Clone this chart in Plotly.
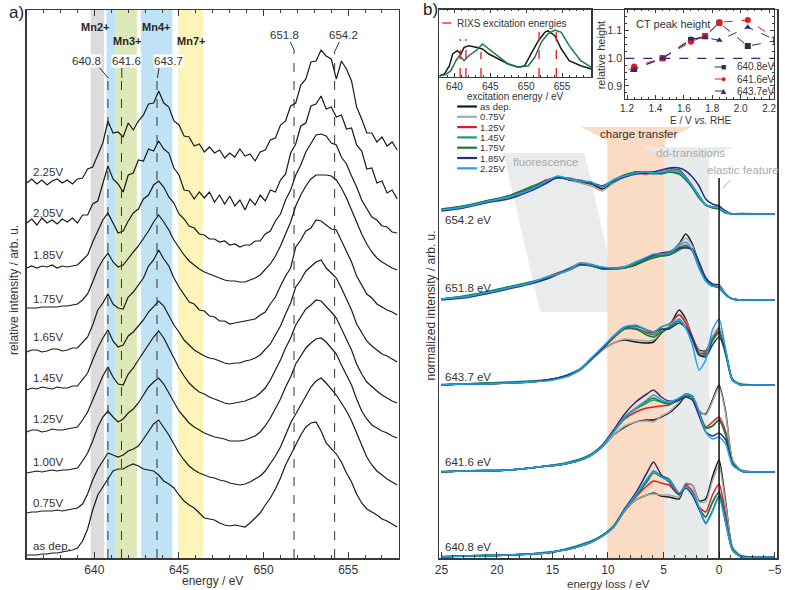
import plotly.graph_objects as go

W, H = 785, 590
def px(x): return x / W
def py(y): return 1 - y / H

FONT = "Liberation Sans, Arial, Helvetica, sans-serif"
TXT = "#333333"
AX = "#3a3a3a"

# ---------------- panel a : XAS spectra ----------------
xas_energy = [636.0, 636.3, 636.6, 636.9, 637.2, 637.5, 637.8, 638.1, 638.4, 638.7,
              639.0, 639.3, 639.6, 639.9, 640.2, 640.5, 640.8, 641.1, 641.4, 641.7,
              642.0, 642.3, 642.6, 642.9, 643.2, 643.5, 643.8, 644.1, 644.4, 644.7,
              645.0, 645.3, 645.6, 645.9, 646.2, 646.5, 646.8, 647.1, 647.4, 647.7,
              648.0, 648.3, 648.6, 648.9, 649.2, 649.5, 649.8, 650.1, 650.4, 650.7,
              651.0, 651.3, 651.6, 651.9, 652.2, 652.5, 652.8, 653.1, 653.4, 653.7,
              654.0, 654.3, 654.6, 654.9, 655.2, 655.5, 655.8, 656.1, 656.4, 656.7,
              657.0, 657.3, 657.6, 657.9]
xas_labels = ["as dep.", "0.75V", "1.00V", "1.25V", "1.45V", "1.65V", "1.75V", "1.85V", "2.05V", "2.25V"]
xas_as_dep = [0, 0, 0, 1, 1, 2, 2, 3, 4, 5, 7, 14, 26, 45, 60, 68, 77, 84, 86, 86,
              89, 91, 89, 86, 85, 84, 80, 74, 71, 67, 60, 54, 50, 47, 42, 37, 36, 35, 32, 30,
              29, 30, 29, 28, 32, 37, 42, 50, 57, 66, 77, 90, 100, 110, 120, 128, 132, 133, 124, 112,
              106, 101, 93, 82, 73, 61, 52, 46, 43, 40, 36, 34, 31, 28]
xas_075 = [0, 1, 1, 2, 2, 2, 3, 2, 3, 4, 5, 9, 19, 33, 44, 52, 60, 58, 56, 58,
           62, 64, 67, 74, 82, 89, 93, 86, 78, 69, 60, 53, 47, 43, 40, 38, 36, 35, 33, 32,
           30, 29, 28, 29, 31, 34, 37, 42, 49, 57, 66, 78, 90, 99, 108, 117, 126, 132, 135, 130,
           124, 118, 110, 102, 92, 80, 67, 56, 48, 42, 38, 34, 31, 28]
xas_100 = [0, 1, 2, 1, 2, 3, 2, 3, 3, 4, 5, 12, 20, 32, 46, 56, 62, 56, 51, 54,
           60, 64, 70, 78, 86, 91, 95, 89, 80, 70, 62, 56, 50, 46, 43, 40, 38, 36, 35, 34,
           32, 32, 32, 33, 35, 37, 41, 47, 55, 64, 74, 86, 96, 109, 117, 125, 130, 134, 135, 131,
           125, 119, 108, 98, 88, 74, 62, 54, 48, 45, 42, 40, 37, 35]
xas_125 = [0, 2, 2, 0, 1, 3, 2, 2, 3, 4, 5, 12, 20, 32, 44, 56, 65, 55, 48, 47,
           58, 64, 72, 80, 88, 95, 101, 94, 84, 74, 64, 56, 49, 44, 40, 38, 35, 33, 31, 29,
           28, 29, 30, 31, 33, 35, 39, 44, 52, 62, 72, 84, 94, 107, 115, 123, 127, 132, 131, 126,
           120, 114, 103, 93, 82, 68, 58, 50, 45, 41, 37, 34, 31, 29]
xas_145 = [0, 2, 1, 3, 2, 1, 3, 2, 2, 4, 4, 10, 17, 30, 42, 52, 60, 49, 43, 45,
           54, 58, 64, 70, 78, 83, 89, 84, 75, 65, 58, 50, 45, 40, 37, 34, 32, 31, 29, 27,
           26, 27, 27, 29, 30, 32, 35, 40, 46, 55, 64, 76, 87, 103, 110, 119, 124, 128, 130, 122,
           117, 112, 102, 91, 80, 66, 57, 49, 44, 40, 36, 34, 31, 28]
xas_165 = [0, 2, 2, 0, 1, 3, 3, 1, 2, 4, 4, 9, 15, 27, 42, 49, 58, 48, 44, 43,
           55, 60, 67, 74, 86, 92, 102, 93, 86, 74, 65, 57, 50, 48, 42, 41, 36, 35, 31, 31,
           28, 29, 30, 31, 32, 33, 37, 40, 48, 55, 66, 76, 84, 105, 112, 121, 124, 132, 131, 127,
           123, 122, 111, 101, 90, 76, 67, 58, 54, 48, 45, 42, 40, 37]
xas_175 = [0, 0, 0, 1, 1, 1, 1, 2, 2, 3, 4, 8, 14, 26, 39, 48, 55, 46, 41, 43,
           50, 56, 62, 69, 77, 86, 93, 86, 78, 68, 60, 53, 47, 43, 39, 36, 34, 32, 30, 28,
           27, 27, 26, 26, 28, 30, 33, 38, 44, 52, 62, 74, 86, 102, 113, 122, 129, 133, 133, 133,
           132, 128, 120, 110, 98, 86, 74, 64, 56, 50, 46, 43, 40, 38]
xas_185 = [0, 2, 0, 2, 1, 3, 0, 2, 1, 2, 3, 8, 13, 26, 37, 48, 55, 45, 35, 37,
           47, 55, 59, 69, 73, 83, 87, 81, 71, 65, 54, 49, 42, 40, 34, 33, 29, 29, 26, 27,
           23, 24, 21, 23, 23, 27, 27, 34, 37, 47, 54, 68, 78, 93, 103, 116, 124, 133, 134, 132,
           125, 123, 111, 104, 92, 81, 68, 60, 51, 48, 42, 41, 36, 35]
xas_205 = [0, 4, -2, 5, 0, 3, -1, 4, 1, 5, 0, 8, 8, 19, 22, 40, 57, 44, 39, 31,
           48, 50, 63, 62, 74, 72, 82, 74, 70, 55, 48, 33, 32, 24, 31, 25, 31, 21, 28, 19,
           27, 17, 23, 13, 24, 18, 28, 22, 33, 31, 43, 49, 70, 79, 97, 100, 117, 119, 127, 114,
           116, 106, 108, 94, 95, 78, 72, 54, 55, 40, 42, 30, 33, 24]
xas_225 = [0, 4, -1, 3, -2, 2, 4, 0, 3, -1, 4, 5, 14, 16, 28, 40, 62, 50, 51, 46,
           60, 53, 62, 68, 79, 80, 92, 80, 76, 62, 58, 47, 46, 37, 39, 31, 36, 30, 33, 25,
           30, 26, 34, 27, 29, 22, 31, 33, 43, 45, 58, 62, 77, 80, 98, 104, 121, 122, 133, 127,
           124, 104, 122, 114, 102, 76, 64, 50, 50, 41, 46, 37, 41, 33]
xas_series = [xas_as_dep, xas_075, xas_100, xas_125, xas_145, xas_165, xas_175, xas_185, xas_205, xas_225]

# excitation energies and oxidation state bands
exc_energies = [640.8, 641.6, 643.7, 651.8, 654.2]
band_lo = [639.78, 640.72, 641.24, 642.76, 644.96]
band_hi = [640.58, 641.24, 642.51, 644.61, 646.42]

# ---------------- panel b : RIXS spectra ----------------
rixs_loss = [25, 23, 21, 19, 17, 15.5, 14.5, 13.5, 12.5, 11.5, 10.5, 9.5, 8.5, 7.5, 6.5,
             5.9, 5.2, 4.5, 3.6, 3.0, 2.4, 1.8, 1.2, 0.6, 0.0, -0.6, -1.2, -2.0, -3.5, -5.0]
rixs_voltages = ["as dep.", "0.75V", "1.25V", "1.45V", "1.75V", "1.85V", "2.25V"]
rixs_exc = ["654.2 eV", "651.8 eV", "643.7 eV", "641.6 eV", "640.8 eV"]
r6542 = [
    [4, 7, 12, 17, 26, 34, 36, 35, 32, 30, 25, 32, 38, 42, 42, 42, 43, 45, 44, 37, 28, 18, 9, 7, 6, 2, 0, 0, 0, 0],
    [5, 8, 12, 18, 26, 33, 37, 34, 31, 28, 23, 31, 37, 41, 42, 42, 43, 44, 43, 36, 27, 17, 9, 7, 5, 2, 0, 1, 0, 0],
    [4, 7, 13, 17, 25, 34, 36, 36, 33, 31, 27, 33, 39, 41, 40, 42, 41, 43, 42, 36, 28, 17, 9, 7, 6, 2, 0, 0, 0, 0],
    [4, 8, 12, 18, 26, 32, 37, 35, 34, 31, 28, 32, 38, 42, 41, 40, 41, 42, 41, 35, 27, 17, 9, 7, 6, 2, 0, 0, 0, 0],
    [5, 8, 13, 18, 27, 33, 36, 35, 33, 30, 28, 34, 39, 42, 42, 41, 40, 42, 40, 34, 26, 16, 9, 6, 5, 1, 0, 0, 0, 0],
    [3, 6, 11, 15, 23, 31, 37, 34, 33, 31, 28, 33, 37, 40, 41, 42, 44, 46, 46, 43, 37, 28, 15, 10, 8, 3, 0, 0, 0, 0],
    [4, 7, 12, 17, 24, 33, 38, 35, 33, 32, 27, 34, 38, 41, 42, 41, 42, 43, 42, 36, 28, 18, 9, 7, 6, 2, 0, 0, 0, 0],
]
r6518 = [
    [1, 3, 7, 12, 17, 23, 27, 31, 37, 35, 31, 31, 32, 35, 40, 43, 45, 47, 56, 66, 56, 36, 22, 16, 15, 6, 1, 0, 0, 0],
    [1, 3, 7, 12, 18, 23, 27, 32, 37, 36, 32, 31, 32, 36, 41, 43, 45, 48, 55, 62, 54, 35, 21, 15, 14, 6, 1, 0, 0, 0],
    [1, 3, 7, 12, 17, 22, 27, 30, 35, 35, 32, 32, 33, 37, 42, 44, 45, 46, 52, 55, 49, 33, 20, 14, 13, 5, 1, 0, 0, 0],
    [1, 3, 8, 13, 17, 22, 26, 30, 36, 34, 32, 31, 33, 36, 42, 43, 44, 45, 51, 54, 49, 32, 19, 14, 13, 5, 1, 0, 0, 0],
    [1, 4, 8, 13, 18, 22, 26, 31, 35, 34, 31, 31, 32, 36, 40, 42, 44, 45, 50, 53, 50, 34, 20, 14, 13, 5, 1, 0, 0, 0],
    [0, 2, 6, 11, 16, 21, 26, 31, 36, 35, 32, 32, 33, 38, 42, 45, 47, 48, 52, 52, 51, 38, 22, 15, 12, 5, 1, 0, 0, 0],
    [1, 3, 7, 12, 17, 23, 26, 30, 37, 35, 33, 32, 33, 38, 43, 46, 46, 47, 54, 58, 50, 32, 19, 14, 13, 5, 1, 0, 0, 0],
]
r6437 = [
    [0, 1, 1, 2, 3, 5, 7, 10, 15, 25, 35, 42, 45, 43, 42, 43, 52, 58, 75, 66, 48, 35, 34, 48, 57, 33, 5, 0, 0, 0],
    [1, 1, 2, 2, 3, 5, 7, 10, 15, 25, 35, 42, 46, 45, 44, 45, 53, 58, 71, 64, 48, 34, 33, 48, 58, 34, 5, 0, 0, 0],
    [0, 1, 1, 2, 3, 5, 7, 10, 16, 26, 36, 47, 56, 56, 53, 52, 58, 61, 70, 62, 48, 32, 32, 46, 54, 32, 5, 0, 0, 0],
    [0, 1, 2, 2, 3, 5, 7, 11, 16, 26, 37, 48, 56, 57, 52, 50, 55, 58, 66, 58, 46, 30, 30, 45, 53, 31, 5, 0, 0, 0],
    [0, 1, 2, 3, 4, 5, 7, 10, 16, 27, 37, 48, 57, 56, 50, 48, 53, 57, 64, 57, 45, 30, 30, 44, 52, 30, 5, 1, 0, 0],
    [0, 1, 1, 2, 3, 5, 7, 10, 16, 26, 37, 49, 58, 59, 55, 53, 56, 56, 62, 58, 47, 30, 28, 40, 48, 33, 6, 0, 0, 0],
    [0, 1, 1, 2, 3, 4, 6, 9, 16, 27, 38, 49, 58, 60, 55, 53, 58, 61, 65, 57, 40, 15, 25, 55, 66, 35, 5, 0, 0, 0],
]
r6416 = [
    [0, 1, 1, 2, 4, 6, 7, 9, 12, 17, 25, 37, 45, 50, 52, 52, 55, 59, 68, 76, 75, 60, 58, 72, 87, 60, 12, 1, 0, 0],
    [1, 1, 2, 2, 4, 6, 7, 9, 12, 17, 25, 37, 46, 50, 51, 50, 56, 60, 70, 77, 76, 62, 57, 70, 85, 58, 12, 2, 0, 0],
    [0, 1, 1, 2, 4, 6, 7, 9, 12, 17, 26, 40, 53, 60, 64, 65, 66, 67, 73, 78, 76, 60, 45, 50, 55, 40, 9, 1, 0, 0],
    [0, 1, 2, 2, 4, 6, 8, 9, 12, 17, 26, 40, 54, 63, 69, 72, 70, 69, 73, 77, 75, 60, 44, 46, 52, 37, 9, 1, 0, 0],
    [0, 1, 1, 2, 4, 6, 7, 10, 13, 18, 27, 41, 55, 64, 71, 74, 70, 68, 72, 78, 75, 59, 44, 46, 52, 37, 9, 1, 0, 0],
    [0, 1, 1, 2, 4, 6, 7, 9, 12, 17, 27, 42, 58, 70, 78, 82, 75, 71, 72, 75, 72, 56, 40, 36, 39, 32, 8, 1, 0, 0],
    [0, 1, 1, 2, 4, 6, 7, 9, 12, 17, 26, 40, 55, 64, 72, 77, 72, 70, 74, 78, 76, 60, 40, 33, 35, 28, 7, 1, 0, 0],
]
r6408 = [
    [0, 1, 1, 2, 3, 4, 6, 8, 11, 15, 21, 30, 46, 57, 62, 64, 61, 60, 58, 73, 72, 56, 58, 80, 97, 55, 10, 1, 0, 0],
    [1, 1, 2, 2, 3, 4, 6, 8, 11, 15, 21, 30, 46, 57, 62, 63, 62, 62, 60, 74, 72, 55, 55, 76, 91, 52, 10, 1, 0, 0],
    [0, 1, 1, 2, 3, 4, 6, 8, 11, 15, 21, 30, 47, 60, 71, 76, 74, 72, 62, 72, 66, 50, 45, 62, 73, 42, 8, 0, 0, 0],
    [0, 1, 1, 2, 3, 5, 6, 8, 12, 16, 22, 31, 48, 61, 75, 84, 80, 76, 63, 70, 63, 48, 40, 55, 65, 38, 8, 0, 0, 0],
    [0, 1, 2, 2, 3, 4, 6, 9, 12, 16, 22, 31, 48, 61, 76, 86, 81, 78, 64, 70, 63, 49, 40, 54, 65, 37, 8, 1, 0, 0],
    [0, 1, 1, 2, 3, 4, 6, 8, 11, 15, 21, 30, 48, 64, 84, 95, 82, 75, 63, 69, 62, 48, 34, 46, 61, 34, 7, 0, 0, 0],
    [0, 1, 1, 2, 3, 4, 6, 8, 11, 15, 21, 30, 47, 62, 78, 86, 80, 76, 64, 70, 64, 50, 33, 45, 60, 34, 7, 0, 0, 0],
]
rixs_series = [r6542, r6518, r6437, r6416, r6408]

# ---------------- inset 1 : XAS with excitation energies ----------------
ins_e_black = [637.9, 638.6, 639.3, 639.75, 640.4, 640.9, 641.35, 642.0, 643.0, 643.9, 644.8, 646.2,
               647.5, 648.9, 649.8, 650.8, 651.7, 652.6, 653.0, 654.0, 654.9, 656.0, 657.6, 659.1]
ins_i_black = [1.3, 3, 11.3, 23, 26.3, 23, 29.7, 31.3, 29.7, 28, 23, 18, 13, 9.7, 11.3, 24.7, 36.3, 44.7,
               46.3, 41.3, 28, 16.3, 11.3, 8]
ins_e_green = [637.9, 638.8, 639.5, 640.2, 640.7, 641.35, 642.0, 643.0, 643.9, 644.8, 646.2, 647.5,
               648.9, 650.3, 651.2, 652.1, 653.0, 654.0, 654.9, 656.0, 657.6, 659.1]
ins_i_green = [1, 2.5, 6.3, 16.3, 21.3, 16.3, 21.3, 26.3, 33, 28, 19.7, 13, 9.7, 11.3, 19.7, 34.7, 43, 47,
               44.7, 31.3, 16.3, 9.7]
ins_line_top = [38, 38, 25, 50, 50]

# ---------------- inset 2 : CT peak height ----------------
ct_potential = [1.00, 1.25, 1.45, 1.65, 1.75, 1.85, 2.05, 2.25]
ct_6408 = [0.89, 0.961, 1.0, 1.066, 1.08, 1.128, 1.044, 1.064]
ct_6416 = [0.89, 0.97, 1.0, 1.06, 1.08, 1.13, 1.138, 1.07]
ct_6437 = [0.89, 0.96, 1.0, 1.07, 1.075, 1.065, 1.112, 1.065]
ct_names = ["640.8eV", "641.6eV", "643.7eV"]

# ---------------- styling ----------------
xas_offset = [3, 45, 85, 126, 168, 206, 250, 290, 335, 375]
xas_label_y = [546, 503, 462, 419, 378, 337, 299, 255, 213, 172]
rixs_colors = ["#1a1a1a", "#a8a8a8", "#e3191e", "#1f9a70", "#1a7a3c", "#2b2c7e", "#1aa5ea"]
rixs_offset = [344, 258, 173, 86, 1]
rixs_label_y = [220, 288, 377, 462, 547]
rixs_legend_y = [106.5, 116.8, 127.1, 137.4, 147.7, 158, 168.3]
band_colors = ["#dcdcdc", "#bfe2f4", "#dde8b9", "#bfe2f4", "#fcf4b8"]
ct_colors = ["#333333", "#e3191e", "#2b2c7e"]
ct_symbols = ["square", "circle", "triangle-up"]
ct_glyph = ["■", "●", "▲"]
ct_legend_y = [67.0, 79.0, 91.0]

fig = go.Figure()

for vals, off in zip(xas_series, xas_offset):
    fig.add_trace(go.Scatter(x=xas_energy, y=[v + off for v in vals], mode="lines",
                             line=dict(color="#1a1a1a", width=1.2), xaxis="x", yaxis="y",
                             showlegend=False, hoverinfo="skip"))

for series, off in zip(rixs_series, rixs_offset):
    for vals, col in zip(series, rixs_colors):
        fig.add_trace(go.Scatter(x=rixs_loss, y=[v + off for v in vals], mode="lines",
                                 line=dict(color=col, width=1.5, shape="spline", smoothing=0.6),
                                 xaxis="x2", yaxis="y2", showlegend=False, hoverinfo="skip"))

fig.add_trace(go.Scatter(x=ins_e_black, y=ins_i_black, mode="lines", line=dict(color="#1a1a1a", width=1.5),
                         xaxis="x3", yaxis="y3", showlegend=False, hoverinfo="skip"))
fig.add_trace(go.Scatter(x=ins_e_green, y=ins_i_green, mode="lines", line=dict(color="#1a7a4c", width=1.5),
                         xaxis="x3", yaxis="y3", showlegend=False, hoverinfo="skip"))

for vals, col, sym in zip([ct_6408, ct_6416, ct_6437], ct_colors, ct_symbols):
    fig.add_trace(go.Scatter(x=ct_potential, y=vals, mode="lines+markers",
                             line=dict(color=col, width=1, dash="dash"),
                             marker=dict(color=col, symbol=sym, size=6),
                             xaxis="x4", yaxis="y4", showlegend=False, hoverinfo="skip"))

shapes = []
ann = []

def text(x, y, s, size=11, color=TXT, xanchor="left", bold=False, bg=None, angle=0, yanchor="middle"):
    d = dict(x=px(x), y=py(y), xref="paper", yref="paper", text=(f"<b>{s}</b>" if bold else s),
             showarrow=False, xanchor=xanchor, yanchor=yanchor, textangle=angle,
             font=dict(family=FONT, size=size, color=color))
    if bg:
        d["bgcolor"] = bg
        d["borderpad"] = 0
    ann.append(d)

def pline(x0, y0, x1, y1, color=TXT, width=1, dash=None):
    ln = dict(color=color, width=width)
    if dash:
        ln["dash"] = dash
    shapes.append(dict(type="line", xref="paper", yref="paper", x0=px(x0), y0=py(y0), x1=px(x1), y1=py(y1), line=ln))

def ppoly(pts, color):
    path = "M " + " L ".join(f"{px(a):.5f},{py(b):.5f}" for a, b in pts) + " Z"
    shapes.append(dict(type="path", xref="paper", yref="paper", path=path, fillcolor=color,
                       line=dict(width=0), layer="below"))

# panel a bands
for lo, hi, col in zip(band_lo, band_hi, band_colors):
    shapes.append(dict(type="rect", xref="x", yref="y domain", x0=lo, x1=hi, y0=0, y1=1,
                       fillcolor=col, line=dict(width=0), layer="below"))
# dashed excitation lines in panel a
for e, top in zip(exc_energies, [480, 480, 480, 507, 507]):
    shapes.append(dict(type="line", xref="x", yref="y", x0=e, x1=e, y0=0, y1=top,
                       line=dict(color="#333", width=1, dash="dash")))
# leader lines
pline(95, 67, 104.7, 78); pline(118.3, 68, 118.3, 78); pline(156, 68, 154.4, 78)
pline(289, 42, 293.3, 51); pline(338.5, 42, 334.3, 51)
for s, x, y in [("640.8", 83, 61), ("641.6", 122.7, 61), ("643.7", 165.7, 61), ("651.8", 283, 35), ("654.2", 343, 35)]:
    text(x, y, s, size=11.5, xanchor="center", bg="white")
for s, x, y in [("Mn2+", 90.8, 27), ("Mn3+", 124, 41), ("Mn4+", 152.5, 27), ("Mn7+", 188.7, 41)]:
    text(x, y, s, size=11, xanchor="center", bold=True, color="#262626")
for s, y in zip(xas_labels, xas_label_y):
    text(26, y, s, size=11.5)
text(2, 12, "a)", size=17, color="#222")
text(210, 581, "energy / eV", size=12, xanchor="center")
text(9, 290, "relative intensity / arb. u.", size=12, xanchor="center", angle=-90)

# panel b background regions
ppoly([(505, 153), (587, 153), (624, 312), (542, 312)], "#e9ebec")
ppoly([(583, 126.7), (696, 126.7), (668.3, 140), (668.3, 558), (610, 558), (610, 140)], "#f9dcc3")
ppoly([(645, 147.3), (738.3, 147.3), (713.3, 156.7), (713.3, 558), (668.3, 558), (668.3, 156.7)], "#e8ebec")
text(642, 133.5, "charge transfer", size=11.5, xanchor="center", color="#333")
text(694, 153, "dd-transitions", size=11.5, xanchor="center", color="#aaaaaa")
text(547, 162, "fluorescence", size=11.5, xanchor="center", color="#aaaaaa")
text(748, 169.5, "elastic feature", size=11.5, xanchor="center", color="#aaaaaa")
pline(735, 180, 727, 188, color="#aaaaaa")
shapes.append(dict(type="line", xref="x2", yref="y2", x0=0, x1=0, y0=0, y1=380,
                   line=dict(color="#111", width=1.5)))
for s, y in zip(rixs_exc, rixs_label_y):
    text(444, y, s, size=11.5)
# legend panel b
for s, col, y in zip(rixs_voltages, rixs_colors, rixs_legend_y):
    pline(458, y, 478, y, color=col, width=2.2)
    text(479, y, s, size=9.5)
text(421, 10, "b)", size=17, color="#222")
text(611, 583.5, "energy loss / eV", size=11.5, xanchor="center")
text(432, 305, "normalized intensity / arb. u.", size=12, xanchor="center", angle=-90)

# inset 1
for e, top in zip(exc_energies, ins_line_top):
    shapes.append(dict(type="line", xref="x3", yref="y3", x0=e, x1=e, y0=0, y1=top,
                       line=dict(color="#e3191e", width=1.3, dash="dash")))
pline(443, 23, 453, 23, color="#e3191e", width=1.3, dash="dash")
text(456, 23, "RIXS excitation energies", size=10)
text(517, 96.5, "excitation energy / eV", size=10, xanchor="center")

# inset 2
shapes.append(dict(type="line", xref="x4", yref="y4", x0=1.188, x1=2.235, y0=1.0, y1=1.0,
                   line=dict(color="#2b2c7e", width=1.2, dash="dash")))
text(637, 24, "CT peak height", size=11)
text(604, 55, "relative height", size=11, xanchor="center", angle=-90)
text(704, 120, "E / V <i>vs.</i> RHE", size=10, xanchor="center")
for s, col, g, y in zip(ct_names, ct_colors, ct_glyph, ct_legend_y):
    pline(719, y, 737, y, color=col, width=1, dash="dash")
    text(728, y, g, size=9, xanchor="center", color=col)
    text(739, y, s, size=10)

axis_common = dict(showline=True, linecolor=AX, linewidth=1.5, showgrid=False, zeroline=False,
                   tickfont=dict(family=FONT, size=12, color=TXT), tickcolor=AX)

fig.update_layout(
    width=W, height=H, autosize=False, margin=dict(l=0, r=0, t=0, b=0),
    paper_bgcolor="white", plot_bgcolor="rgba(0,0,0,0)", showlegend=False,
    font=dict(family=FONT, color=TXT),
    xaxis=dict(domain=[px(22), px(399)], range=[636.0, 658.0], anchor="y", ticks="inside", ticklen=6,
               tick0=640, dtick=5, mirror="ticks",
               minor=dict(ticks="inside", ticklen=3, dtick=1, tickcolor=AX), **axis_common),
    yaxis=dict(domain=[py(558), py(10)], range=[0, 548], anchor="x", showticklabels=False, ticks="",
               mirror=True, **axis_common),
    xaxis2=dict(domain=[px(440), px(782)], range=[25.18, -5.22], anchor="y2", ticks="inside", ticklen=6,
                tick0=0, dtick=5, mirror=True,
                minor=dict(ticks="inside", ticklen=3, dtick=1, tickcolor=AX), **axis_common),
    yaxis2=dict(domain=[py(558), py(10)], range=[0, 548], anchor="x2", showticklabels=False, ticks="",
                mirror=True, **axis_common),
    xaxis3=dict(domain=[px(440), px(594)], range=[637.9, 659.1], anchor="y3", ticks="inside", ticklen=4,
                tick0=640, dtick=5, mirror="ticks",
                minor=dict(ticks="inside", ticklen=2, dtick=1, tickcolor=AX),
                showline=True, linecolor=AX, linewidth=1.2, showgrid=False, zeroline=False,
                tickfont=dict(family=FONT, size=10, color=TXT), tickcolor=AX),
    yaxis3=dict(domain=[py(77), py(9)], range=[0, 68], anchor="x3", showticklabels=False, ticks="",
                showline=True, linecolor=AX, linewidth=1.2, mirror=True, showgrid=False, zeroline=False),
    xaxis4=dict(domain=[px(628.3), px(779)], range=[1.188, 2.235], anchor="y4", ticks="inside", ticklen=4,
                tick0=1.2, dtick=0.2, tickformat=".1f", mirror="ticks",
                minor=dict(ticks="inside", ticklen=2, dtick=0.05, tickcolor=AX),
                showline=True, linecolor=AX, linewidth=1.2, showgrid=False, zeroline=False,
                tickfont=dict(family=FONT, size=10, color=TXT), tickcolor=AX),
    yaxis4=dict(domain=[py(99), py(9.3)], range=[0.853, 1.177], anchor="x4", ticks="inside", ticklen=4,
                tick0=0.9, dtick=0.1, tickformat=".1f", mirror="ticks",
                minor=dict(ticks="inside", ticklen=2, dtick=0.025, tickcolor=AX),
                showline=True, linecolor=AX, linewidth=1.2, showgrid=False, zeroline=False,
                tickfont=dict(family=FONT, size=10.5, color=TXT), tickcolor=AX),
    shapes=shapes, annotations=ann,
)

fig.write_html("out.html", config={"displayModeBar": False, "staticPlot": True},
               post_script="document.body.style.margin='0';document.body.style.overflow='hidden';")
